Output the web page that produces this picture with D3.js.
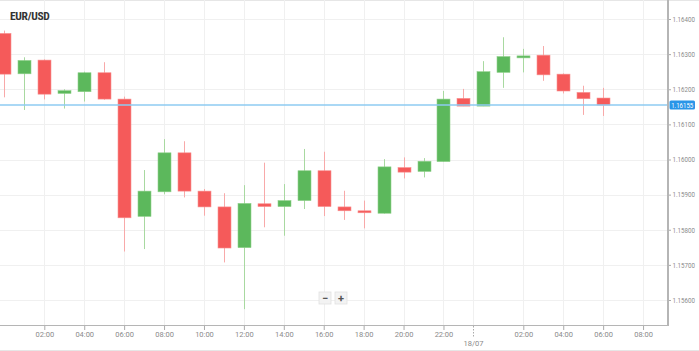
<!DOCTYPE html>
<html>
<head>
<meta charset="utf-8">
<script src="https://cdn.jsdelivr.net/npm/d3@7"></script>
<style>
  html, body { margin: 0; padding: 0; background: #fff; }
  svg { display: block; font-family: Roboto, "Noto Sans", sans-serif; }
</style>
</head>
<body>
<svg id="chart" width="699" height="351"></svg>
<script>
// ---- data (hourly candles starting 17/07 00:00) ----
const hourOffsets = [0,1,2,3,4,5,6,7,8,9,10,11,12,13,14,15,16,17,18,19,20,21,22,23,24,25,26,27,28,29,30];
const opens  = [1.16359,1.16244,1.16283,1.16188,1.16193,1.16247,1.16172,1.15838,1.15908,1.16019,1.15910,1.15865,1.15749,1.15874,1.15866,1.15883,1.15968,1.15865,1.15854,1.15847,1.15977,1.15966,1.15994,1.16174,1.16152,1.16248,1.16290,1.16297,1.16243,1.16191,1.16175];
const highs  = [1.16367,1.16291,1.16285,1.16200,1.16250,1.16277,1.16179,1.15970,1.16058,1.16052,1.15916,1.15904,1.15927,1.15991,1.15930,1.16030,1.16022,1.15911,1.15883,1.16001,1.16006,1.16004,1.16195,1.16201,1.16280,1.16348,1.16315,1.16323,1.16245,1.16210,1.16204];
const lows   = [1.16177,1.16141,1.16171,1.16145,1.16165,1.16170,1.15738,1.15745,1.15901,1.15892,1.15840,1.15707,1.15574,1.15807,1.15783,1.15859,1.15839,1.15828,1.15804,1.15846,1.15946,1.15949,1.15994,1.16152,1.16152,1.16204,1.16248,1.16224,1.16188,1.16127,1.16124];
const closes = [1.16243,1.16282,1.16186,1.16196,1.16247,1.16172,1.15834,1.15910,1.16019,1.15910,1.15865,1.15748,1.15875,1.15866,1.15883,1.15968,1.15866,1.15854,1.15849,1.15979,1.15964,1.15995,1.16172,1.16152,1.16250,1.16293,1.16295,1.16241,1.16195,1.16173,1.16155];
const yTicks = [1.156,1.157,1.158,1.159,1.160,1.161,1.162,1.163,1.164];
const xTickHours  = [2,4,6,8,10,12,14,16,18,20,22,26,28,30,32];
const xTickLabels = ["02:00","04:00","06:00","08:00","10:00","12:00","14:00","16:00","18:00","20:00","22:00","02:00","04:00","06:00","08:00"];
const dateTickHour = 23.5;
const dateTickLabel = "18/07";
const currentPrice = 1.16155;
const title = "EUR/USD";

// ---- layout ----
const svg = d3.select("#chart");
const W = 699, H = 351;
const plotRight = 668, plotBottom = 325;
const day0 = Date.UTC(2018, 6, 17, 0, 0);
const t = h => new Date(day0 + h * 3600000);

const x = d3.scaleUtc().domain([t(-0.22), t(33.25)]).range([0, plotRight]);
const y = d3.scaleLinear().domain([1.156, 1.164]).range([300, 19]);

// border lines top/bottom
svg.append("line").attr("x1",0).attr("x2",W).attr("y1",0.5).attr("y2",0.5).attr("stroke","#e6e6e6");
svg.append("line").attr("x1",0).attr("x2",W).attr("y1",350.5).attr("y2",350.5).attr("stroke","#e6e6e6");

// grid
const grid = svg.append("g");
grid.selectAll(".hg").data(yTicks).join("line")
  .attr("x1",0).attr("x2",plotRight)
  .attr("y1",d=>Math.round(y(d))+0.5).attr("y2",d=>Math.round(y(d))+0.5)
  .attr("stroke","#f0f0f0");
grid.selectAll(".vg").data(xTickHours.concat([dateTickHour])).join("line")
  .attr("x1",d=>Math.round(x(t(d)))+0.5).attr("x2",d=>Math.round(x(t(d)))+0.5)
  .attr("y1",0).attr("y2",plotBottom)
  .attr("stroke","#f0f0f0");

// title
svg.append("text").attr("x",10).attr("y",20).text(title)
  .attr("font-size","11.5px").attr("font-weight","bold").attr("fill","#333")
  .attr("font-family","'Roboto Condensed', Roboto, sans-serif").attr("letter-spacing","-0.3");

// candles
const candles = hourOffsets.map((h,i)=>({h, o:opens[i], hi:highs[i], lo:lows[i], c:closes[i]}));
const step = x(t(1)) - x(t(0));
const bw = step * 0.65;
const g = svg.append("g");
g.selectAll(".wick").data(candles).join("line")
  .attr("x1",d=>Math.round(x(t(d.h)))+0.5).attr("x2",d=>Math.round(x(t(d.h)))+0.5)
  .attr("y1",d=>y(d.hi)).attr("y2",d=>y(d.lo))
  .attr("stroke",d=>d.c>=d.o ? "#a8d9a0" : "#f8a9a9").attr("stroke-width",1);
g.selectAll(".body").data(candles).join("rect")
  .attr("x",d=>Math.round(x(t(d.h))) + 0.5 - bw/2)
  .attr("width",bw)
  .attr("y",d=>y(Math.max(d.o,d.c)))
  .attr("height",d=>Math.max(2, Math.abs(y(d.o)-y(d.c))))
  .attr("fill",d=>d.c>=d.o ? "#5cb85c" : "#f55a5a")
  .attr("stroke",d=>d.c>=d.o ? "#8fd08a" : "#f89090").attr("stroke-width",0.6);

// current price line
svg.append("line").attr("x1",0).attr("x2",plotRight)
  .attr("y1",y(currentPrice)).attr("y2",y(currentPrice))
  .attr("stroke","#8ecbf2").attr("stroke-width",1.5);

// axes lines
svg.append("line").attr("x1",plotRight).attr("x2",plotRight).attr("y1",0).attr("y2",plotBottom+1)
  .attr("stroke","#b5b5b5").attr("stroke-width",2);
svg.append("line").attr("x1",0).attr("x2",plotRight).attr("y1",plotBottom+0.5).attr("y2",plotBottom+0.5)
  .attr("stroke","#b5b5b5").attr("stroke-width",1);

// y axis
const yAxis = d3.axisRight(y).tickValues(yTicks).tickFormat(d3.format(".5f")).tickSize(2).tickPadding(1.5);
const ya = svg.append("g").attr("transform",`translate(${plotRight+1},0)`).call(yAxis);
ya.select(".domain").remove();
ya.selectAll("line").attr("stroke","#aaa");
ya.selectAll("text").attr("font-size","7px").attr("fill","#8a8a8a").attr("font-family","Roboto, sans-serif")
  .attr("textLength",22.5).attr("lengthAdjust","spacingAndGlyphs");

// x axis
const xAxis = d3.axisBottom(x).tickValues(xTickHours.map(t))
  .tickFormat((d,i)=>xTickLabels[i]).tickSize(4).tickPadding(2);
const xa = svg.append("g").attr("transform",`translate(0,${plotBottom+1})`).call(xAxis);
xa.select(".domain").remove();
xa.selectAll("line").attr("stroke","#aaa");
xa.selectAll("text").attr("font-size","7.5px").attr("fill","#8a8a8a").attr("font-family","Roboto, sans-serif");

// date tick
const dx = Math.round(x(t(dateTickHour)))+0.5;
svg.append("line").attr("x1",dx).attr("x2",dx).attr("y1",plotBottom+1).attr("y2",plotBottom+13)
  .attr("stroke","#aaa").attr("stroke-dasharray","1.5,1.5");
svg.append("text").attr("x",dx).attr("y",345.5).attr("text-anchor","middle").text(dateTickLabel)
  .attr("font-size","7.5px").attr("fill","#8a8a8a").attr("font-family","Roboto, sans-serif");

// current price label
const py = y(currentPrice);
svg.append("rect").attr("x",669.5).attr("y",py-4.5).attr("width",25.5).attr("height",9).attr("rx",1.5)
  .attr("fill","#2a95e8");
svg.append("text").attr("x",682.2).attr("y",py+2.5).attr("text-anchor","middle").text(d3.format(".5f")(currentPrice))
  .attr("font-size","7px").attr("fill","#fff").attr("font-family","Roboto, sans-serif")
  .attr("textLength",22).attr("lengthAdjust","spacingAndGlyphs");

// zoom control
const zc = svg.append("g");
[["\u2212",319],["+",335]].forEach(([s,bx])=>{
  zc.append("rect").attr("x",bx).attr("y",292).attr("width",12).attr("height",12)
    .attr("fill","#f3f3f3").attr("stroke","#e0e0e0").attr("stroke-width",0.8);
  zc.append("text").attr("x",bx+6).attr("y",301.5).attr("text-anchor","middle").text(s)
    .attr("font-size","11px").attr("font-weight","bold").attr("fill","#555");
});
</script>
</body>
</html>
